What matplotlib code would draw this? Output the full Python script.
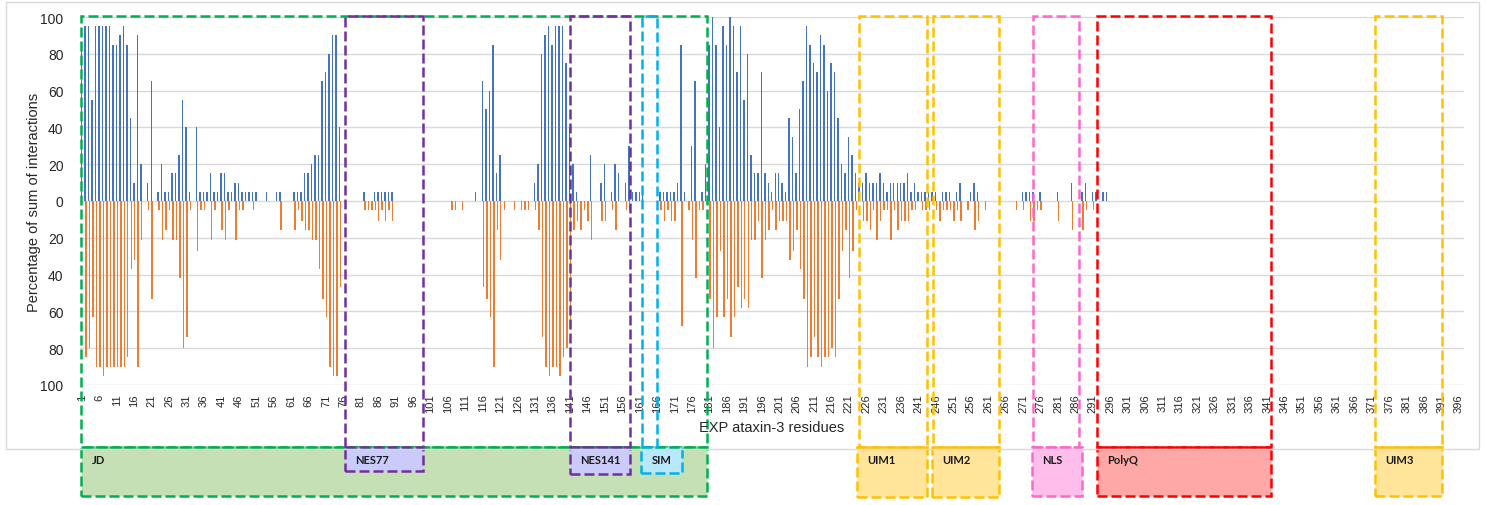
import numpy as np
import matplotlib
matplotlib.use('Agg')
from matplotlib import pyplot as plt
from matplotlib.patches import Rectangle
from matplotlib.transforms import blended_transform_factory
from matplotlib.ticker import FuncFormatter

# residuos (1..397) y porcentajes
n_residuos = 397

res_azul = [1, 2, 3, 4, 5, 6, 7, 8, 9, 10, 11, 12, 13, 14, 15, 16, 17, 18, 20, 21,
            23, 24, 25, 26, 27, 28, 29, 30, 31, 32, 34, 35, 36, 37, 38, 39, 40, 41, 42, 43,
            44, 45, 46, 47, 48, 49, 50, 51, 54, 57, 58, 62, 63, 64, 65, 66, 67, 68, 69, 70,
            71, 72, 73, 74, 75,
            82, 85, 86, 87, 88, 89, 90, 114, 116, 117, 118, 119, 120, 121, 131, 132, 133,
            134, 135, 136, 137, 138, 139, 140, 141, 142, 143, 147, 150, 151, 153, 154, 155,
            157, 158, 159, 160, 161, 162, 167, 168, 169, 170, 171, 172, 173, 174, 176, 177,
            179, 180, 181, 182, 183, 184, 185, 186, 187, 188, 189, 190, 191, 192, 193, 194,
            195, 196, 197, 198, 199, 200, 201, 202, 203, 204, 205, 206, 207, 208, 209, 210,
            211, 212, 213, 214, 215, 216, 217, 218, 219, 220, 221, 222, 223, 224, 225, 226,
            227, 228, 229, 230, 231, 232, 233, 234, 235, 236, 237, 238, 239, 240, 241, 242,
            243, 244, 245, 246, 248, 249, 250, 252, 253, 256, 257, 258,
            271, 272, 273, 274, 276, 281, 285, 288, 289, 291, 292, 294, 295]
val_azul = [85, 95, 95, 55, 95, 95, 95, 95, 95, 85, 85, 90, 95, 85, 45, 10, 90, 20, 10, 65,
            5, 20, 5, 5, 15, 15, 25, 55, 40, 5, 40, 5, 5, 5, 15, 5, 5, 15, 15, 5,
            5, 10, 10, 5, 5, 5, 5, 5, 5, 5, 5, 5, 5, 5, 15, 15, 20, 25, 25, 65,
            70, 80, 90, 90, 40,
            5, 5, 5, 5, 5, 5, 5, 5, 65, 50, 60, 85, 15, 25, 10, 20, 80,
            90, 95, 85, 95, 95, 95, 75, 40, 20, 5, 25, 10, 20, 5, 20, 15,
            10, 30, 5, 5, 5, 5, 5, 5, 5, 5, 5, 10, 85, 5, 30, 65,
            5, 20, 85, 100, 85, 40, 95, 85, 100, 95, 70, 95, 55, 80, 25, 15,
            15, 70, 15, 10, 5, 15, 15, 10, 5, 45, 35, 15, 50, 65, 95, 85,
            75, 70, 90, 85, 60, 75, 70, 45, 20, 15, 35, 25, 15, 10, 10, 15,
            10, 10, 10, 15, 10, 5, 10, 10, 10, 10, 10, 15, 5, 10, 5, 5,
            5, 5, 5, 5, 5, 5, 5, 5, 10, 5, 10, 5,
            5, 5, 5, 5, 5, 5, 10, 5, 10, 5, 5, 5, 5]

res_naranja = [2, 3, 4, 5, 6, 7, 8, 9, 10, 11, 12, 13, 14, 15, 16, 17, 18, 20, 21, 23,
               24, 25, 26, 27, 28, 29, 30, 31, 32, 34, 35, 36, 38, 39, 41, 42, 43, 45, 46, 47,
               50, 58, 62, 63, 64, 65, 66, 67, 68, 69, 70, 71, 72, 73, 74, 75,
               82, 83, 84, 85, 86, 87, 88, 89, 90, 107, 108, 110, 116, 117, 118, 119, 120,
               121, 122, 125, 127, 128, 129, 131, 132, 133,
               134, 135, 136, 137, 138, 139, 140, 141, 142, 143, 144, 145, 146, 147, 150, 151,
               153, 154, 157, 158, 166, 167, 168, 169, 170, 171, 173, 175, 176, 177, 178, 179,
               181, 182, 183, 184, 185, 186, 187, 188, 189, 190, 191, 192, 193, 194, 195, 196,
               197, 198, 199, 200, 201, 202, 203, 204, 205, 206, 207, 208, 209, 210, 211, 212,
               213, 214, 215, 216, 217, 218, 219, 220, 221, 222, 223, 225, 226, 227, 228, 229,
               230, 231, 232, 233, 234, 235, 236, 237, 238, 239, 240, 242, 243, 244, 246, 247,
               248, 249, 250, 251, 252, 253, 255, 257, 258, 260, 269, 271, 273, 274, 275, 276,
               281, 285, 288, 289, 291]
val_naranja = [85, 80, 63, 90, 90, 95, 90, 90, 90, 90, 90, 90, 85, 37, 32, 90, 21, 5, 53, 5,
               21, 16, 5, 21, 21, 42, 80, 74, 5, 27, 5, 5, 21, 5, 16, 21, 5, 21, 5, 5,
               5, 16, 16, 5, 11, 16, 16, 21, 21, 37, 53, 63, 90, 95, 95, 47,
               5, 5, 5, 5, 11, 5, 11, 5, 11, 5, 5, 5, 47, 53, 63, 90, 16,
               32, 5, 5, 5, 5, 5, 5, 16, 74,
               90, 95, 90, 90, 95, 85, 80, 70, 16, 11, 16, 5, 11, 21, 11, 11,
               5, 16, 5, 5, 5, 5, 11, 5, 11, 11, 68, 5, 21, 42, 5, 5,
               53, 80, 63, 27, 63, 53, 74, 63, 47, 58, 53, 58, 21, 21, 11, 42,
               21, 16, 5, 16, 11, 11, 11, 32, 27, 16, 37, 53, 90, 85, 74, 85,
               90, 85, 85, 80, 85, 53, 27, 16, 42, 27, 5, 11, 11, 16, 5, 21,
               11, 5, 5, 21, 5, 16, 11, 11, 11, 5, 5, 5, 5, 5, 5, 11,
               5, 5, 5, 11, 5, 11, 5, 16, 11, 5, 5, 5, 11, 11, 5, 5,
               11, 16, 16, 5, 5]

# dominios de ataxina-3 (en residuos)
dominios = ['JD', 'NES77', 'NES141', 'SIM', 'UIM1', 'UIM2', 'NLS', 'PolyQ', 'UIM3']
dom_inicio = [0.7, 76.4, 141.0, 161.6, 224.0, 245.0, 273.7, 292.2, 372.0]
dom_fin = [180.2, 98.7, 158.2, 165.9, 243.3, 264.1, 286.9, 342.1, 391.1]
caja_inicio = [0.7, 76.4, 141.0, 161.4, 223.3, 244.8, 273.5, 292.2, 372.0]
caja_fin = [180.2, 98.7, 158.2, 173.1, 243.4, 264.1, 288.0, 342.1, 391.1]

colores_borde = ['#00B050', '#7030A0', '#7030A0', '#00B0F0', '#FFC000', '#FFC000',
                 '#FF66CC', '#FF0000', '#FFC000']
colores_relleno = ['#C5E0B4', '#CBCBFB', '#CBCBFB', '#B8E8FB', '#FFE599', '#FFE599',
                   '#FFBDEC', '#FFA8A8', '#FFE599']
caja_base = [0.018, 0.067, 0.061, 0.063, 0.016, 0.016, 0.018, 0.018, 0.018]

AZUL = '#4472C4'
NARANJA = '#ED7D31'

fig = plt.figure(figsize=(14.86, 5.06), dpi=100)
ax = fig.add_axes([0.054, 0.2372, 0.9313, 0.7272])

ax.bar(np.array(res_azul) - 0.13, val_azul, width=0.42, color=AZUL, zorder=2)
ax.bar(np.array(res_naranja) + 0.13, -np.array(val_naranja), width=0.42, color=NARANJA, zorder=2)

ax.set_xlim(0.5, n_residuos + 0.5)
ax.set_ylim(-100, 100)
ax.set_yticks(np.arange(-100, 101, 20))
ax.yaxis.set_major_formatter(FuncFormatter(lambda v, p: f'{abs(v):.0f}'))
ax.set_xticks(np.arange(1, n_residuos, 5))
ax.set_xticklabels([str(i) for i in range(1, n_residuos, 5)], rotation=90, fontsize=8,
                   family='Liberation Sans', color='#262626')
for lbl in ax.get_yticklabels():
    lbl.set_fontsize(10)
    lbl.set_family('Liberation Sans')
    lbl.set_color('#262626')
ax.tick_params(axis='both', length=0)
ax.tick_params(axis='y', pad=12)
ax.tick_params(axis='x', pad=6)
ax.grid(axis='y', color='#D9D9D9', linewidth=1, zorder=0)
ax.set_axisbelow(True)
for s in ax.spines.values():
    s.set_visible(False)

ax.set_ylabel('Percentage of sum of interactions', fontsize=10.5, family='Liberation Sans',
              color='#262626')
ax.yaxis.set_label_coords(-0.0285, 0.5)
fig.text(0.5195, 1 - 428 / 506, 'EXP ataxin-3 residues', fontsize=10.5,
         family='Liberation Sans', color='#262626', ha='center', va='center')

# marco del grafico
fig.patches.append(Rectangle((6 / 1486, 1 - 450 / 506), 1473 / 1486, 447 / 506,
                             transform=fig.transFigure, fill=False,
                             edgecolor='#D9D9D9', linewidth=1))

trans = blended_transform_factory(ax.transData, fig.transFigure)
y_arriba = 1 - 17 / 506
y_caja = 1 - 448 / 506
estilo = (0, (4, 1.6))
for i, nombre in enumerate(dominios):
    ax.add_patch(Rectangle((dom_inicio[i], y_caja), dom_fin[i] - dom_inicio[i], y_arriba - y_caja,
                           transform=trans, fill=False, edgecolor=colores_borde[i],
                           linewidth=1.8, linestyle=estilo, clip_on=False, zorder=5))
    ax.add_patch(Rectangle((caja_inicio[i], caja_base[i]), caja_fin[i] - caja_inicio[i],
                           y_caja - caja_base[i], transform=trans,
                           facecolor=colores_relleno[i], edgecolor=colores_borde[i],
                           linewidth=1.8, linestyle=estilo, clip_on=False, zorder=4))
    ax.text(caja_inicio[i] + 3, 1 - 461 / 506, nombre, transform=trans, fontsize=8,
            fontweight='bold', family='Lato', color='#1a1a1a', ha='left', va='center',
            clip_on=False, zorder=6)

fig.savefig('out.png', dpi=100)
